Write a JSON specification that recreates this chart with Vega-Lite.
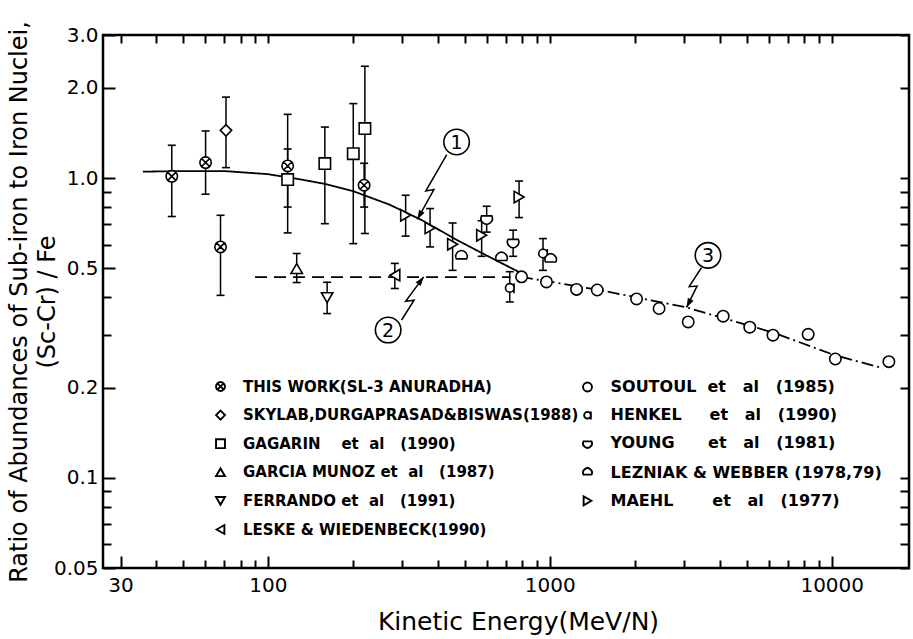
{
  "$schema": "https://vega.github.io/schema/vega-lite/v6.json",
  "width": 806,
  "height": 533,
  "autosize": {"type": "none"},
  "padding": {"left": 103, "top": 35, "right": 4, "bottom": 71},
  "background": "white",
  "config": {
    "view": {"stroke": "black", "strokeWidth": 2.5},
    "font": "DejaVu Sans",
    "axis": {"grid": false, "domain": false, "tickColor": "black", "tickWidth": 2, "labelColor": "black", "titleColor": "black", "labelFlush": false, "labelOverlap": false, "labelFont": "DejaVu Sans", "titleFont": "DejaVu Sans"}
  },
  "datasets": {
    "pts": [
      {"s": "TW", "col": "L", "E": 45.6, "R": 1.013, "lo": 0.744, "hi": 1.286},
      {"s": "TW", "col": "L", "E": 60.1, "R": 1.126, "lo": 0.883, "hi": 1.435},
      {"s": "TW", "col": "L", "E": 67.9, "R": 0.589, "lo": 0.406, "hi": 0.751},
      {"s": "TW", "col": "L", "E": 117.5, "R": 1.097, "lo": 0.8, "hi": 1.631},
      {"s": "TW", "col": "L", "E": 219.4, "R": 0.946, "lo": 0.8, "hi": 1.12},
      {"s": "SK", "col": "L", "E": 71.0, "R": 1.442, "lo": 1.083, "hi": 1.862},
      {"s": "GA", "col": "L", "E": 117.5, "R": 0.988, "lo": 0.656, "hi": 1.25},
      {"s": "GA", "col": "L", "E": 159.2, "R": 1.117, "lo": 0.704, "hi": 1.479},
      {"s": "GA", "col": "L", "E": 200.8, "R": 1.206, "lo": 0.604, "hi": 1.771},
      {"s": "GA", "col": "L", "E": 220.8, "R": 1.462, "lo": 0.653, "hi": 2.36},
      {"s": "GM", "col": "L", "E": 126.5, "R": 0.499, "lo": 0.448, "hi": 0.56},
      {"s": "FE", "col": "L", "E": 162.2, "R": 0.399, "lo": 0.353, "hi": 0.449},
      {"s": "LW", "col": "L", "E": 282, "R": 0.474, "lo": 0.428, "hi": 0.519},
      {"s": "MA", "col": "R", "E": 308, "R": 0.751, "lo": 0.64, "hi": 0.876},
      {"s": "MA", "col": "R", "E": 376, "R": 0.681, "lo": 0.589, "hi": 0.791},
      {"s": "MA", "col": "R", "E": 452, "R": 0.601, "lo": 0.492, "hi": 0.708},
      {"s": "MA", "col": "R", "E": 573, "R": 0.644, "lo": 0.548, "hi": 0.72},
      {"s": "MA", "col": "R", "E": 778, "R": 0.864, "lo": 0.738, "hi": 0.977},
      {"s": "YO", "col": "R", "E": 597, "R": 0.733, "lo": 0.66, "hi": 0.805},
      {"s": "YO", "col": "R", "E": 741, "R": 0.612, "lo": 0.548, "hi": 0.67},
      {"s": "HE", "col": "R", "E": 721, "R": 0.43, "lo": 0.386, "hi": 0.487},
      {"s": "HE", "col": "R", "E": 946, "R": 0.56, "lo": 0.492, "hi": 0.628},
      {"s": "LZ", "col": "R", "E": 486, "R": 0.548},
      {"s": "LZ", "col": "R", "E": 674, "R": 0.541},
      {"s": "LZ", "col": "R", "E": 1007, "R": 0.535},
      {"s": "SO", "col": "R", "E": 794, "R": 0.468},
      {"s": "SO", "col": "R", "E": 973, "R": 0.45},
      {"s": "SO", "col": "R", "E": 1244, "R": 0.425},
      {"s": "SO", "col": "R", "E": 1473, "R": 0.423},
      {"s": "SO", "col": "R", "E": 2031, "R": 0.395},
      {"s": "SO", "col": "R", "E": 2441, "R": 0.367},
      {"s": "SO", "col": "R", "E": 3097, "R": 0.331},
      {"s": "SO", "col": "R", "E": 4120, "R": 0.346},
      {"s": "SO", "col": "R", "E": 5120, "R": 0.318},
      {"s": "SO", "col": "R", "E": 6190, "R": 0.299},
      {"s": "SO", "col": "R", "E": 8250, "R": 0.301},
      {"s": "SO", "col": "R", "E": 10300, "R": 0.249},
      {"s": "SO", "col": "R", "E": 15950, "R": 0.244}
    ],
    "curves": [
      {"c": "1", "E": 36, "R": 1.05},
      {"c": "1", "E": 50, "R": 1.055},
      {"c": "1", "E": 70, "R": 1.055},
      {"c": "1", "E": 100, "R": 1.03},
      {"c": "1", "E": 130, "R": 0.99},
      {"c": "1", "E": 160, "R": 0.955},
      {"c": "1", "E": 200, "R": 0.905},
      {"c": "1", "E": 270, "R": 0.815},
      {"c": "1", "E": 350, "R": 0.725},
      {"c": "1", "E": 470, "R": 0.62},
      {"c": "1", "E": 600, "R": 0.55},
      {"c": "1", "E": 780, "R": 0.485},
      {"c": "2", "E": 90, "R": 0.467},
      {"c": "2", "E": 725, "R": 0.467},
      {"c": "3", "E": 790, "R": 0.468},
      {"c": "3", "E": 1500, "R": 0.423},
      {"c": "3", "E": 3055, "R": 0.37},
      {"c": "3", "E": 6200, "R": 0.305},
      {"c": "3", "E": 10300, "R": 0.256},
      {"c": "3", "E": 15200, "R": 0.232}
    ],
    "arrows": [
      {"a": 1, "i": 0, "E": 431, "R": 1.197},
      {"a": 1, "i": 1, "E": 363, "R": 0.905},
      {"a": 1, "i": 2, "E": 388, "R": 0.915},
      {"a": 1, "i": 3, "E": 339, "R": 0.728},
      {"a": 2, "i": 0, "E": 298, "R": 0.336},
      {"a": 2, "i": 1, "E": 330, "R": 0.391},
      {"a": 2, "i": 2, "E": 308, "R": 0.388},
      {"a": 2, "i": 3, "E": 357, "R": 0.468},
      {"a": 3, "i": 0, "E": 3450, "R": 0.502},
      {"a": 3, "i": 1, "E": 3120, "R": 0.434},
      {"a": 3, "i": 2, "E": 3330, "R": 0.436},
      {"a": 3, "i": 3, "E": 3055, "R": 0.37}
    ],
    "notes": [
      {"n": "1", "E": 467, "R": 1.319},
      {"n": "2", "E": 267, "R": 0.311},
      {"n": "3", "E": 3640, "R": 0.552}
    ]
  },
  "layer": [
    {
      "data": {"name": "curves"},
      "mark": {"type": "line", "color": "black", "strokeWidth": 1.8},
      "encoding": {
        "x": {"field": "E", "type": "quantitative", "scale": {"type": "log", "domain": [26, 18800], "nice": false}, "axis": null},
        "y": {"field": "R", "type": "quantitative", "scale": {"type": "log", "domain": [0.05, 3], "nice": false}, "axis": null},
        "detail": {"field": "c"},
        "strokeDash": {"field": "c", "type": "nominal", "scale": {"domain": ["1", "2", "3"], "range": [[1, 0], [12, 7], [12, 4, 2, 4]]}, "legend": null}
      }
    },
    {
      "data": {"name": "pts"},
      "transform": [{"filter": "isValid(datum.lo)"}],
      "mark": {"type": "rule", "color": "black", "strokeWidth": 1.5},
      "encoding": {
        "x": {"field": "E", "type": "quantitative", "scale": {"type": "log", "domain": [26, 18800], "nice": false},
              "axis": {"orient": "top", "values": [30,40,50,60,70,80,90,100,200,300,400,500,600,700,800,900,1000,2000,3000,4000,5000,6000,7000,8000,9000,10000], "labels": false, "tickSize": -8, "title": null}},
        "y": {"field": "lo", "type": "quantitative", "scale": {"type": "log", "domain": [0.05, 3], "nice": false},
              "axis": {"orient": "right", "values": [0.05,0.06,0.07,0.08,0.09,0.1,0.2,0.3,0.4,0.5,0.6,0.7,0.8,0.9,1,2,3], "labels": false, "tickSize": -9, "title": null}},
        "y2": {"field": "hi"}
      }
    },
    {
      "data": {"name": "pts"},
      "transform": [{"filter": "isValid(datum.lo)"}, {"fold": ["lo", "hi"], "as": ["k", "v"]}],
      "mark": {"type": "point", "shape": "stroke", "size": 64, "color": "black", "strokeWidth": 1.6, "filled": false, "opacity": 1},
      "encoding": {
        "x": {"field": "E", "type": "quantitative", "scale": {"type": "log", "domain": [26, 18800], "nice": false}, "axis": null},
        "y": {"field": "v", "type": "quantitative", "scale": {"type": "log", "domain": [0.05, 3], "nice": false}, "axis": null}
      }
    },
    {
      "data": {"name": "pts"},
      "transform": [{"filter": "datum.col == 'L'"}],
      "mark": {"type": "point", "filled": false, "color": "black", "fill": "white", "size": 130, "strokeWidth": 1.6, "opacity": 1},
      "encoding": {
        "x": {"field": "E", "type": "quantitative", "scale": {"type": "log", "domain": [26, 18800], "nice": false},
              "axis": {"orient": "bottom", "values": [30, 100, 1000, 10000], "format": "d", "tickSize": -12, "labelPadding": 19, "labelFontSize": 20, "title": "Kinetic Energy(MeV/N)", "titleFontSize": 25, "titleFontWeight": "normal", "titlePadding": 14, "titleX": 415}},
        "y": {"field": "R", "type": "quantitative", "scale": {"type": "log", "domain": [0.05, 3], "nice": false},
              "axis": {"orient": "left", "values": [0.05, 0.1, 0.2, 0.5, 1, 2, 3], "labelExpr": "datum.value < 0.07 ? '0.05' : format(datum.value, '.1f')", "tickSize": -12, "labelPadding": 17, "labelFontSize": 20, "title": ["Ratio of Abundances of Sub-iron to Iron Nuclei,", "(Sc-Cr) / Fe"], "titleFontSize": 24, "titleFontWeight": "normal", "titlePadding": -6, "titleLineHeight": 28}},
        "shape": {"field": "s", "type": "nominal",
                  "scale": {"domain": ["TW", "SK", "GA", "GM", "FE", "LW"], "range": ["M1,0A1,1,0,1,1,-1,0A1,1,0,1,1,1,0ZM-0.7,-0.7L0.7,0.7M-0.7,0.7L0.7,-0.7", "diamond", "square", "triangle-up", "triangle-down", "triangle-left"]},
                  "legend": {"orient": "none", "legendX": 110, "legendY": 344, "direction": "vertical", "title": null, "padding": 0, "symbolSize": 80, "symbolStrokeWidth": 1.9, "symbolOpacity": 1, "labelFont": "DejaVu Sans", "labelFontSize": 15, "labelFontWeight": "bold", "labelColor": "black", "labelLimit": 600, "labelOffset": 15, "rowPadding": 11.6,
                             "labelExpr": "datum.label == 'TW' ? 'THIS WORK(SL-3 ANURADHA)' : datum.label == 'SK' ? 'SKYLAB,DURGAPRASAD&BISWAS(1988)' : datum.label == 'GA' ? 'GAGARIN\u00a0\u00a0\u00a0\u00a0et\u00a0\u00a0al\u00a0\u00a0\u00a0(1990)' : datum.label == 'GM' ? 'GARCIA MUNOZ\u00a0et\u00a0\u00a0al\u00a0\u00a0\u00a0(1987)' : datum.label == 'FE' ? 'FERRANDO\u00a0et\u00a0\u00a0al\u00a0\u00a0\u00a0(1991)' : 'LESKE & WIEDENBECK(1990)'"}}
      }
    },
    {
      "data": {"name": "pts"},
      "transform": [{"filter": "datum.col == 'R'"}],
      "mark": {"type": "point", "filled": false, "color": "black", "fill": "white", "size": 130, "strokeWidth": 1.6, "opacity": 1},
      "encoding": {
        "x": {"field": "E", "type": "quantitative", "scale": {"type": "log", "domain": [26, 18800], "nice": false},
              "axis": {"orient": "bottom", "values": [40,50,60,70,80,90,200,300,400,500,600,700,800,900,2000,3000,4000,5000,6000,7000,8000,9000], "labels": false, "tickSize": -8, "title": null}},
        "y": {"field": "R", "type": "quantitative", "scale": {"type": "log", "domain": [0.05, 3], "nice": false},
              "axis": {"orient": "left", "values": [0.06,0.07,0.08,0.09,0.3,0.4,0.6,0.7,0.8,0.9], "labels": false, "tickSize": -8, "title": null}},
        "shape": {"field": "s", "type": "nominal",
                  "scale": {"domain": ["SO", "HE", "YO", "LZ", "MA"], "range": ["circle", "M0.75,0A0.75,0.75,0,1,1,-0.75,0A0.75,0.75,0,1,1,0.75,0ZM0.75,-0.8L0.75,0.95", "M-0.9,-0.45L0.9,-0.45A1,1,0,1,1,-0.9,-0.45Z", "M-0.9,0.45L0.9,0.45A1,1,0,1,0,-0.9,0.45Z", "triangle-right"]},
                  "legend": {"orient": "none", "legendX": 476.5, "legendY": 344, "direction": "vertical", "title": null, "padding": 0, "symbolSize": 80, "symbolStrokeWidth": 1.9, "symbolOpacity": 1, "labelFont": "DejaVu Sans", "labelFontSize": 16, "labelFontWeight": "bold", "labelColor": "black", "labelLimit": 600, "labelOffset": 15, "rowPadding": 11.2,
                             "labelExpr": "datum.label == 'SO' ? 'SOUTOUL\u00a0\u00a0et\u00a0\u00a0\u00a0al\u00a0\u00a0\u00a0(1985)' : datum.label == 'HE' ? 'HENKEL\u00a0\u00a0\u00a0\u00a0\u00a0et\u00a0\u00a0\u00a0al\u00a0\u00a0\u00a0(1990)' : datum.label == 'YO' ? 'YOUNG\u00a0\u00a0\u00a0\u00a0\u00a0\u00a0et\u00a0\u00a0\u00a0al\u00a0\u00a0\u00a0(1981)' : datum.label == 'LZ' ? 'LEZNIAK & WEBBER (1978,79)' : 'MAEHL\u00a0\u00a0\u00a0\u00a0\u00a0\u00a0\u00a0et\u00a0\u00a0\u00a0al\u00a0\u00a0\u00a0(1977)'"}}
      }
    },
    {
      "data": {"name": "arrows"},
      "mark": {"type": "line", "color": "black", "strokeWidth": 1.5},
      "encoding": {
        "x": {"field": "E", "type": "quantitative", "scale": {"type": "log", "domain": [26, 18800], "nice": false}, "axis": null},
        "y": {"field": "R", "type": "quantitative", "scale": {"type": "log", "domain": [0.05, 3], "nice": false}, "axis": null},
        "detail": {"field": "a"},
        "order": {"field": "i", "type": "quantitative"}
      }
    },
    {
      "data": {"name": "arrows"},
      "transform": [{"filter": "datum.i == 3 && datum.a == 1"}],
      "mark": {"type": "point", "shape": "M0,0L-0.45,1.3L0.45,1.3Z", "size": 200, "filled": true, "color": "black", "opacity": 1, "angle": 209},
      "encoding": {
        "x": {"field": "E", "type": "quantitative", "scale": {"type": "log", "domain": [26, 18800], "nice": false}, "axis": null},
        "y": {"field": "R", "type": "quantitative", "scale": {"type": "log", "domain": [0.05, 3], "nice": false}, "axis": null}
      }
    },
    {
      "data": {"name": "arrows"},
      "transform": [{"filter": "datum.i == 3 && datum.a == 2"}],
      "mark": {"type": "point", "shape": "M0,0L-0.45,1.3L0.45,1.3Z", "size": 200, "filled": true, "color": "black", "opacity": 1, "angle": 37},
      "encoding": {
        "x": {"field": "E", "type": "quantitative", "scale": {"type": "log", "domain": [26, 18800], "nice": false}, "axis": null},
        "y": {"field": "R", "type": "quantitative", "scale": {"type": "log", "domain": [0.05, 3], "nice": false}, "axis": null}
      }
    },
    {
      "data": {"name": "arrows"},
      "transform": [{"filter": "datum.i == 3 && datum.a == 3"}],
      "mark": {"type": "point", "shape": "M0,0L-0.45,1.3L0.45,1.3Z", "size": 200, "filled": true, "color": "black", "opacity": 1, "angle": 207},
      "encoding": {
        "x": {"field": "E", "type": "quantitative", "scale": {"type": "log", "domain": [26, 18800], "nice": false}, "axis": null},
        "y": {"field": "R", "type": "quantitative", "scale": {"type": "log", "domain": [0.05, 3], "nice": false}, "axis": null}
      }
    },
    {
      "data": {"name": "notes"},
      "mark": {"type": "point", "shape": "circle", "size": 650, "filled": true, "fill": "white", "stroke": "black", "strokeWidth": 1.6, "opacity": 1},
      "encoding": {
        "x": {"field": "E", "type": "quantitative", "scale": {"type": "log", "domain": [26, 18800], "nice": false}, "axis": null},
        "y": {"field": "R", "type": "quantitative", "scale": {"type": "log", "domain": [0.05, 3], "nice": false}, "axis": null}
      }
    },
    {
      "data": {"name": "notes"},
      "mark": {"type": "text", "font": "DejaVu Sans", "fontSize": 19, "color": "black", "align": "center", "baseline": "middle", "dy": 1},
      "encoding": {
        "x": {"field": "E", "type": "quantitative", "scale": {"type": "log", "domain": [26, 18800], "nice": false}, "axis": null},
        "y": {"field": "R", "type": "quantitative", "scale": {"type": "log", "domain": [0.05, 3], "nice": false}, "axis": null},
        "text": {"field": "n"}
      }
    }
  ],
  "resolve": {"axis": {"x": "independent", "y": "independent"}, "scale": {"shape": "independent"}}
}
